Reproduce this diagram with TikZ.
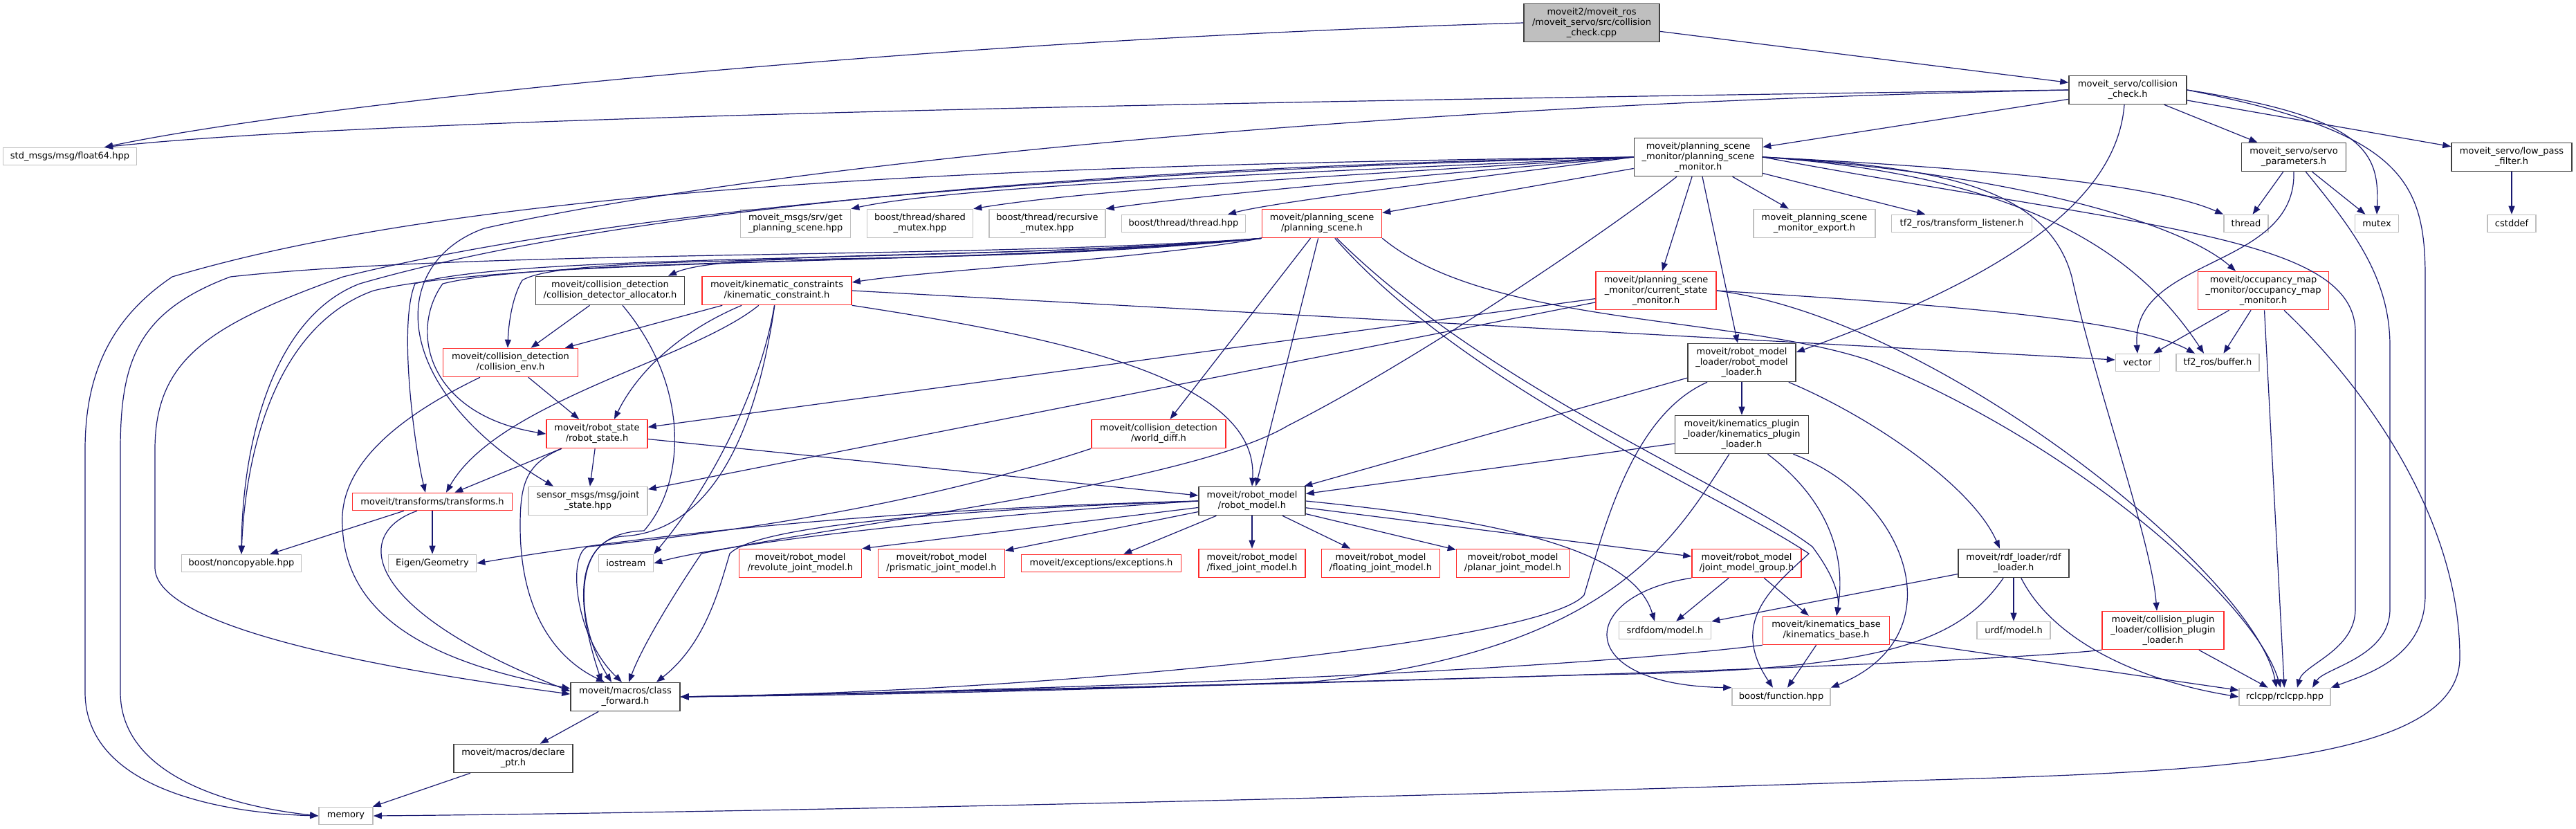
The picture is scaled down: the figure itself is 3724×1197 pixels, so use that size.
\documentclass[tikz,border=0pt]{standalone}
\usepackage{fontspec}
\setmainfont{DejaVu Sans}
\usetikzlibrary{arrows.meta}
\definecolor{edgeblue}{HTML}{191970}
\definecolor{docgray}{HTML}{404040}
\definecolor{extgray}{HTML}{BFBFBF}
\definecolor{truncred}{HTML}{FF2A2A}
\definecolor{rootfill}{HTML}{BFBFBF}

\begin{document}
\begin{tikzpicture}[x=1pt, y=-1pt,
  doc/.style={rectangle, draw=docgray, fill=white, line width=1.6pt, align=center, inner sep=0pt,
    font=\fontsize{13}{15}\selectfont, minimum height=41},
  ext/.style={doc, draw=extgray},
  trunc/.style={doc, draw=truncred},
  root/.style={doc, fill=rootfill},
  one/.style={minimum height=25},
  three/.style={minimum height=55},
  inc/.style={-{Triangle[length=12pt,width=9pt]}, draw=edgeblue, line width=1.2pt}
]
  \path[use as bounding box, fill=white] (0,0) rectangle (3724,1197);

  \node[root, three, minimum width=196] (cpp) at (2301,33) {moveit2/moveit\_ros\\/moveit\_servo/src/collision\\\_check.cpp};
  \node[ext, one, minimum width=193] (std) at (101,226) {std\_msgs/msg/float64.hpp};
  \node[doc, minimum width=170] (cch) at (3076,130) {moveit\_servo/collision\\\_check.h};
  \node[doc, three, minimum width=185] (psm) at (2455,227) {moveit/planning\_scene\\\_monitor/planning\_scene\\\_monitor.h};
  \node[doc, minimum width=151] (servo) at (3316,227) {moveit\_servo/servo\\\_parameters.h};
  \node[doc, minimum width=174] (lpf) at (3631,227) {moveit\_servo/low\_pass\\\_filter.h};

  \node[ext, minimum width=159] (getps) at (1150,323) {moveit\_msgs/srv/get\\\_planning\_scene.hpp};
  \node[ext, minimum width=153] (shmtx) at (1330,323) {boost/thread/shared\\\_mutex.hpp};
  \node[ext, minimum width=168] (recmtx) at (1514,323) {boost/thread/recursive\\\_mutex.hpp};
  \node[ext, one, minimum width=179] (thrhpp) at (1711,323) {boost/thread/thread.hpp};
  \node[trunc, minimum width=173] (ps) at (1911,323) {moveit/planning\_scene\\/planning\_scene.h};
  \node[ext, minimum width=176] (export) at (2623,323) {moveit\_planning\_scene\\\_monitor\_export.h};
  \node[ext, one, minimum width=203] (tfl) at (2836,323) {tf2\_ros/transform\_listener.h};
  \node[ext, one, minimum width=64] (thread) at (3247,323) {thread};
  \node[ext, one, minimum width=63] (mutex) at (3436,323) {mutex};
  \node[ext, one, minimum width=70] (cstddef) at (3631,323) {cstddef};

  \node[doc, minimum width=215] (alloc) at (882,420) {moveit/collision\_detection\\/collision\_detector\_allocator.h};
  \node[trunc, minimum width=216] (kc) at (1123,420) {moveit/kinematic\_constraints\\/kinematic\_constraint.h};
  \node[trunc, three, minimum width=174] (csm) at (2394,420) {moveit/planning\_scene\\\_monitor/current\_state\\\_monitor.h};
  \node[trunc, three, minimum width=189] (occ) at (3272,420) {moveit/occupancy\_map\\\_monitor/occupancy\_map\\\_monitor.h};

  \node[trunc, minimum width=195] (cenv) at (738,524) {moveit/collision\_detection\\/collision\_env.h};
  \node[doc, three, minimum width=156] (rml) at (2518,524) {moveit/robot\_model\\\_loader/robot\_model\\\_loader.h};
  \node[ext, one, minimum width=63] (vector) at (3090,524) {vector};
  \node[ext, one, minimum width=120] (buffer) at (3206,524) {tf2\_ros/buffer.h};

  \node[trunc, minimum width=146] (rstate) at (863,627) {moveit/robot\_state\\/robot\_state.h};
  \node[trunc, minimum width=194] (wdiff) at (1675,627) {moveit/collision\_detection\\/world\_diff.h};
  \node[doc, three, minimum width=193] (kpl) at (2518,628) {moveit/kinematics\_plugin\\\_loader/kinematics\_plugin\\\_loader.h};

  \node[trunc, one, minimum width=231] (transforms) at (625,725) {moveit/transforms/transforms.h};
  \node[ext, minimum width=172] (sensor) at (850,724) {sensor\_msgs/msg/joint\\\_state.hpp};
  \node[doc, minimum width=154] (rmodel) at (1810,724) {moveit/robot\_model\\/robot\_model.h};

  \node[ext, one, minimum width=173] (noncopy) at (349,814) {boost/noncopyable.hpp};
  \node[ext, one, minimum width=127] (eigen) at (625,814) {Eigen/Geometry};
  \node[ext, one, minimum width=79] (iostream) at (905,814) {iostream};
  \node[trunc, minimum width=177] (revolute) at (1157,814) {moveit/robot\_model\\/revolute\_joint\_model.h};
  \node[trunc, minimum width=183] (prismatic) at (1361,814) {moveit/robot\_model\\/prismatic\_joint\_model.h};
  \node[trunc, one, minimum width=231] (exceptions) at (1592,814) {moveit/exceptions/exceptions.h};
  \node[trunc, minimum width=154] (fixed) at (1810,814) {moveit/robot\_model\\/fixed\_joint\_model.h};
  \node[trunc, minimum width=171] (floating) at (1996,814) {moveit/robot\_model\\/floating\_joint\_model.h};
  \node[trunc, minimum width=163] (planar) at (2187,814) {moveit/robot\_model\\/planar\_joint\_model.h};
  \node[trunc, minimum width=158] (jmg) at (2525,814) {moveit/robot\_model\\/joint\_model\_group.h};
  \node[doc, minimum width=160] (rdf) at (2911,814) {moveit/rdf\_loader/rdf\\\_loader.h};

  \node[ext, one, minimum width=133] (srdf) at (2407,911) {srdfdom/model.h};
  \node[trunc, minimum width=183] (kbase) at (2640,911) {moveit/kinematics\_base\\/kinematics\_base.h};
  \node[ext, one, minimum width=106] (urdf) at (2911,911) {urdf/model.h};
  \node[trunc, three, minimum width=176] (cpl) at (3127,911) {moveit/collision\_plugin\\\_loader/collision\_plugin\\\_loader.h};

  \node[doc, minimum width=158] (cfwd) at (904,1007) {moveit/macros/class\\\_forward.h};
  \node[ext, one, minimum width=142] (bfunc) at (2575,1007) {boost/function.hpp};
  \node[ext, one, minimum width=132] (rclcpp) at (3303,1007) {rclcpp/rclcpp.hpp};
  \node[doc, minimum width=172] (dptr) at (742,1096) {moveit/macros/declare\\\_ptr.h};
  \node[ext, one, minimum width=78] (memory) at (500,1179) {memory};

  % source file and collision_check.h
  \draw[inc] (cpp.west) .. controls (1300,60) and (450,150) .. ([xshift=50pt]std.north);
  \draw[inc] (cpp) -- (cch);
  \draw[inc] (cch.west) .. controls (1500,150) and (500,175) .. ([xshift=50pt]std.north);
  \draw[inc] (cch) -- (psm);
  \draw[inc] (cch) -- (servo);
  \draw[inc] (cch) -- (lpf);
  \draw[inc] (cch.east) .. controls (3420,170) and (3440,220) .. (mutex.north);
  \draw[inc] (cch.east) .. controls (3470,190) and (3506,260) .. (3506,400) -- (3506,860) .. controls (3506,950) and (3420,975) .. (rclcpp.north east);
  \draw[inc] ([xshift=-5pt]cch.south) .. controls (3060,290) and (2900,400) .. ([yshift=15pt]rml.east);
  \draw[inc] (cch.west) .. controls (2000,150) and (1100,240) .. (700,330) .. controls (560,380) and (560,560) .. ([xshift=-50pt]sensor.north);

  % planning_scene_monitor.h
  \draw[inc] (psm.west) .. controls (2000,245) and (1400,265) .. (getps.north east);
  \draw[inc] (psm.west) .. controls (2050,248) and (1600,270) .. (shmtx.north east);
  \draw[inc] (psm.west) .. controls (2100,250) and (1750,280) .. (recmtx.north east);
  \draw[inc] (psm.west) .. controls (2150,255) and (1850,290) .. ([xshift=64pt]thrhpp.north);
  \draw[inc] (psm) -- (ps);
  \draw[inc] (psm) -- (export);
  \draw[inc] (psm) -- (tfl);
  \draw[inc] (psm) -- (csm);
  \draw[inc] (psm) -- (rml);
  \draw[inc] (psm.east) .. controls (2800,240) and (3100,260) .. (thread.north west);
  \draw[inc] (psm.east) .. controls (2900,250) and (3150,320) .. ([xshift=-40pt]occ.north);
  \draw[inc] (psm.east) .. controls (2950,255) and (3100,380) .. ([xshift=-20pt]buffer.north);
  \draw[inc] (psm.east) .. controls (2800,240) and (2960,270) .. (2995,400) .. controls (3030,560) and (3110,780) .. ([xshift=-9pt]cpl.north);
  \draw[inc] (psm.east) .. controls (3100,330) and (3405,340) .. (3405,480) -- (3405,880) .. controls (3405,940) and (3330,960) .. ([xshift=18pt]rclcpp.north);
  \draw[inc] (psm.west) .. controls (1500,238) and (700,265) .. (249,400) .. controls (160,460) and (123,540) .. (123,650) -- (123,1000) .. controls (123,1140) and (320,1175) .. (memory.west);
  \draw[inc] (psm.west) .. controls (1600,245) and (900,300) .. (496,400) .. controls (300,470) and (224,520) .. (224,650) -- (224,820) .. controls (224,900) and (500,960) .. ([yshift=4pt]cfwd.west);
  \draw[inc] (psm.west) .. controls (1600,240) and (900,300) .. (520,410) .. controls (390,460) and (350,650) .. (noncopy.north);
  \draw[inc] ([xshift=-31pt]psm.south) .. controls (2330,330) and (2050,520) .. (1862,615) .. controls (1720,700) and (1200,760) .. (1014,800) .. controls (980,850) and (930,930) .. ([xshift=5pt]cfwd.north);

  % planning_scene.h
  \draw[inc] (ps) -- (wdiff);
  \draw[inc] (ps) -- (rmodel);
  \draw[inc] (ps.south west) .. controls (1650,375) and (1350,390) .. ([yshift=12pt]kc.east);
  \draw[inc] (ps.south west) .. controls (1500,375) and (1050,360) .. ([xshift=84pt]alloc.north);
  \draw[inc] (ps.south west) .. controls (1400,375) and (700,360) .. (333,400) .. controls (200,450) and (174,520) .. (174,650) -- (174,1000) .. controls (174,1120) and (330,1165) .. (memory.west);
  \draw[inc] (ps.south west) .. controls (1400,385) and (750,370) .. (540,420) .. controls (400,470) and (355,650) .. (noncopy.north);
  \draw[inc] (ps.south west) .. controls (1400,380) and (750,365) .. (600,410) .. controls (575,470) and (600,650) .. ([xshift=-10pt]transforms.north);
  \draw[inc] (ps.south west) .. controls (1400,385) and (800,370) .. (640,410) .. controls (590,480) and (620,600) .. (rstate.west);
  \draw[inc] (ps.south west) .. controls (1400,390) and (830,360) .. (755,405) .. controls (740,430) and (735,470) .. ([xshift=-4pt]cenv.north);
  \draw[inc] (ps) .. controls (2150,560) and (2500,700) .. (2620,790) .. controls (2650,830) and (2660,860) .. ([xshift=15pt]kbase.north);
  \draw[inc] (ps) .. controls (2120,560) and (2480,710) .. (2615,800) .. controls (2560,850) and (2500,900) .. ([xshift=-12pt]bfunc.north);
  \draw[inc] (ps.south east) .. controls (2150,470) and (2500,455) .. (2700,520) .. controls (3000,640) and (3260,870) .. ([xshift=-6pt]rclcpp.north);

  % collision detection and constraints
  \draw[inc] (alloc) -- (cenv);
  \draw[inc] (alloc) .. controls (1000,560) and (990,700) .. (931,767) .. controls (820,770) and (835,880) .. ([xshift=-34pt]cfwd.north);
  \draw[inc] (kc) -- (cenv);
  \draw[inc] (kc) .. controls (980,480) and (920,540) .. ([xshift=25pt]rstate.north);
  \draw[inc] (kc) .. controls (1000,520) and (720,580) .. ([xshift=20pt]transforms.north);
  \draw[inc] (kc.south east) .. controls (1550,490) and (1820,550) .. (rmodel.north);
  \draw[inc] (kc.east) -- ([yshift=4pt]vector.west);
  \draw[inc] (kc) .. controls (1100,560) and (1030,700) .. (iostream.north east);
  \draw[inc] (kc) .. controls (1085,680) and (1000,770) .. (900,775) .. controls (830,780) and (830,900) .. ([xshift=-20pt]cfwd.north);
  \draw[inc] (cenv) -- (rstate);
  \draw[inc] (cenv) .. controls (560,610) and (490,680) .. (495,760) .. controls (500,900) and (640,960) .. ([yshift=12pt]cfwd.west);
  \draw[inc] (wdiff.south west) .. controls (1300,740) and (1000,775) .. (850,790) .. controls (820,800) and (830,920) .. ([xshift=-5pt]cfwd.north);

  % robot state, monitors and loaders
  \draw[inc] (rstate) -- (transforms);
  \draw[inc] (rstate) -- (sensor);
  \draw[inc] (rstate) -- (rmodel);
  \draw[inc] (rstate) .. controls (760,670) and (752,700) .. (752,760) .. controls (752,880) and (800,950) .. ([xshift=-30pt]cfwd.north);
  \draw[inc] (csm) -- (rstate);
  \draw[inc] (csm) -- (sensor);
  \draw[inc] (csm.east) .. controls (2800,440) and (3080,460) .. ([xshift=-33pt]buffer.north);
  \draw[inc] (csm.east) .. controls (2800,460) and (3260,830) .. ([xshift=-12pt]rclcpp.north);
  \draw[inc] (rml) -- (rmodel);
  \draw[inc] (rml) -- (kpl);
  \draw[inc] (rml) .. controls (2700,600) and (2850,700) .. ([xshift=-20pt]rdf.north);
  \draw[inc] ([xshift=-50pt]rml.south) .. controls (2360,600) and (2320,760) .. (2290,860) .. controls (2230,930) and (1500,1000) .. (cfwd.east);
  \draw[inc] (kpl) -- (rmodel);
  \draw[inc] (kpl) .. controls (2640,720) and (2670,800) .. ([xshift=15pt]kbase.north);
  \draw[inc] (kpl) .. controls (2760,720) and (2830,920) .. (bfunc.north east);
  \draw[inc] (kpl) .. controls (2420,780) and (2330,940) .. (1900,985) .. controls (1500,1000) and (1200,1005) .. (cfwd.east);
  \draw[inc] (kbase.south west) .. controls (2200,975) and (1400,1000) .. (cfwd.east);
  \draw[inc] (kbase) -- (bfunc);
  \draw[inc] (kbase) -- (rclcpp);
  \draw[inc] (jmg) -- (srdf);
  \draw[inc] (jmg) -- (kbase);
  \draw[inc] (jmg.south west) .. controls (2280,860) and (2270,990) .. (bfunc.north west);
  \draw[inc] (rdf) -- (urdf);
  \draw[inc] (rdf) -- (srdf);
  \draw[inc] (rdf) .. controls (2830,930) and (2720,970) .. (2300,975) .. controls (1800,990) and (1300,1000) .. (cfwd.east);
  \draw[inc] (rdf) .. controls (2970,930) and (3100,985) .. (rclcpp.west);
  \draw[inc] (cpl) -- (rclcpp);
  \draw[inc] (cpl.south west) .. controls (2900,955) and (2200,985) .. (cfwd.east);

  % robot_model.h
  \draw[inc] (rmodel.west) .. controls (1300,735) and (950,770) .. (eigen.east);
  \draw[inc] (rmodel.west) .. controls (1400,745) and (1050,785) .. (iostream.east);
  \draw[inc] (rmodel.west) .. controls (1300,740) and (1090,765) .. (1055,800) .. controls (1040,850) and (1020,930) .. ([xshift=45pt]cfwd.north);
  \draw[inc] (rmodel) -- (revolute.north east);
  \draw[inc] (rmodel) -- (prismatic);
  \draw[inc] (rmodel) -- (exceptions);
  \draw[inc] (rmodel) -- (fixed);
  \draw[inc] (rmodel) -- (floating);
  \draw[inc] (rmodel) -- (planar);
  \draw[inc] (rmodel) -- (jmg);
  \draw[inc] (rmodel.east) .. controls (2150,750) and (2360,790) .. ([xshift=-15pt]srdf.north);

  % servo parameters, filter, occupancy map
  \draw[inc] (servo) -- (thread);
  \draw[inc] (servo) -- (mutex);
  \draw[inc] (servo.south) .. controls (3320,390) and (3080,370) .. (vector.north);
  \draw[inc] (servo) .. controls (3400,330) and (3455,400) .. (3455,500) -- (3455,880) .. controls (3455,950) and (3360,965) .. ([xshift=40pt]rclcpp.north);
  \draw[inc] (lpf) -- (cstddef);
  \draw[inc] (occ) -- (vector);
  \draw[inc] (occ) -- (buffer);
  \draw[inc] (occ) -- (rclcpp);
  \draw[inc] (occ) .. controls (3420,560) and (3556,750) .. (3556,950) .. controls (3556,1100) and (3200,1115) .. (2793,1127) .. controls (1800,1160) and (900,1176) .. (memory.east);

  % transforms and macros
  \draw[inc] (transforms) -- (eigen);
  \draw[inc] (transforms) -- (noncopy);
  \draw[inc] ([xshift=-22pt]transforms.south) .. controls (510,770) and (520,880) .. ([yshift=8pt]cfwd.west);
  \draw[inc] (cfwd) -- (dptr);
  \draw[inc] (dptr) -- (memory);
\end{tikzpicture}
\end{document}
